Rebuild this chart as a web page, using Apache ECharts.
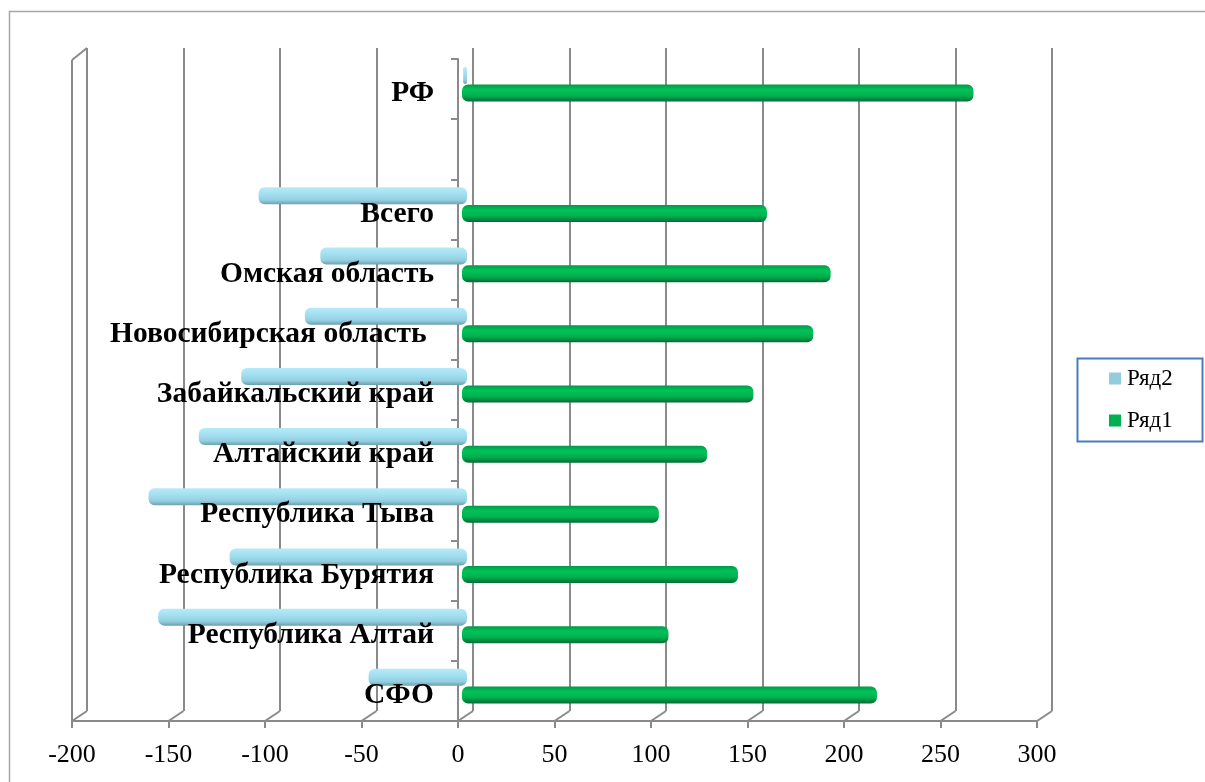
<!DOCTYPE html>
<html><head><meta charset="utf-8">
<script src="https://cdn.jsdelivr.net/npm/echarts@6/dist/echarts.min.js"></script>
<style>html,body{margin:0;padding:0;background:#fff}#c{width:1205px;height:782px}</style>
</head><body><div id="c"></div>
<script>
const categories = ['СФО','Республика Алтай','Республика Бурятия','Республика Тыва','Алтайский край','Забайкальский край','Новосибирская область ','Омская область','Всего','','РФ'];
const row1 = [215, 107, 143, 102, 127, 151, 182, 191, 158, null, 265];
const row2 = [-51, -160, -123, -165, -139, -117, -84, -76, -108, null, -2];
const seriesNames = ['Ряд1', 'Ряд2'];
const xMin = -200, xMax = 300, xStep = 50;

const GRID_W = 965;
const FRONT = {left: 72, top: 59, height: 662};
const BACK = {left: 87, top: 48, height: 663};
const GREEN = {left: 76, top: 63, height: 662};
const BLUE = {left: 81, top: 45.4, height: 662};
const LABELS = {left: 72, top: 63.5, height: 662};
const gridLine = '#8a8a8a';
const serif = '"Liberation Serif","Times New Roman",serif';

function grid(g){ return {left: g.left, top: g.top, width: GRID_W, height: g.height, containLabel:false, outerBoundsMode:'none'}; }
function hiddenX(i){ return {type:'value', gridIndex:i, min:xMin, max:xMax, interval:xStep, show:false}; }
function hiddenY(i){ return {type:'category', gridIndex:i, data:categories, show:false}; }

const chart = echarts.init(document.getElementById('c'), null, {renderer:'canvas'});
chart.setOption({
  animation:false,
  backgroundColor:'#fff',
  grid:[grid(FRONT), grid(BACK), grid(GREEN), grid(BLUE), grid(LABELS)],
  xAxis:[
    {type:'value', gridIndex:0, min:xMin, max:xMax, interval:xStep,
     axisLine:{show:true, onZero:false, lineStyle:{color:gridLine, width:2}},
     axisTick:{show:true, length:7, lineStyle:{color:gridLine, width:2}},
     axisLabel:{color:'#000', fontFamily:serif, fontSize:26, margin:21},
     splitLine:{show:false}},
    {type:'value', gridIndex:1, min:xMin, max:xMax, interval:xStep,
     axisLine:{show:false}, axisTick:{show:false}, axisLabel:{show:false},
     splitLine:{show:true, lineStyle:{color:gridLine, width:2}}},
    hiddenX(2), hiddenX(3),
    {type:'value', gridIndex:4, min:xMin, max:xMax, interval:xStep,
     axisLine:{show:false}, axisTick:{show:false}, axisLabel:{show:false}, splitLine:{show:false}}
  ],
  yAxis:[
    {type:'category', gridIndex:0, data:categories, offset:-386,
     axisLine:{show:true, onZero:false, lineStyle:{color:gridLine, width:2}},
     axisTick:{show:true, length:7, lineStyle:{color:gridLine, width:2}},
     axisLabel:{show:false},
     splitLine:{show:false}},
    hiddenY(1), hiddenY(2), hiddenY(3),
    {type:'category', gridIndex:4, data:categories, offset:-386, z:10,
     axisLine:{show:false, onZero:false}, axisTick:{show:false},
     axisLabel:{color:'#000', fontFamily:serif, fontSize:29.5, fontWeight:'bold', margin:24},
     splitLine:{show:false}}
  ],
  legend:{
    orient:'vertical', left:1109, top:367, padding:0, itemGap:19,
    itemWidth:12, itemHeight:12, icon:'rect',
    textStyle:{fontFamily:serif, fontSize:23, color:'#000', padding:[0,0,0,1]},
    data:[{name:seriesNames[1], itemStyle:{color:'#93CDDD'}}, {name:seriesNames[0], itemStyle:{color:'#00B050'}}]
  },
  series:[
    {name:seriesNames[0], type:'bar', xAxisIndex:2, yAxisIndex:2, data:row1, barWidth:17,
     itemStyle:{borderRadius:6, color:new echarts.graphic.LinearGradient(0,0,0,1,[
       {offset:0,color:'#009a48'},{offset:0.3,color:'#00c358'},{offset:0.65,color:'#00b14f'},{offset:1,color:'#006e36'}])}},
    {name:seriesNames[1], type:'bar', xAxisIndex:3, yAxisIndex:3, data:row2, barWidth:17,
     itemStyle:{borderRadius:6, color:new echarts.graphic.LinearGradient(0,0,0,1,[
       {offset:0,color:'#b8eaf8'},{offset:0.4,color:'#a2dff0'},{offset:0.75,color:'#93cfe0'},{offset:1,color:'#6b9fae'}])}}
  ]
});

// 3D frame decoration derived from the axis scale
const frontBottom = FRONT.top + FRONT.height;
const backBottom = BACK.top + BACK.height;
const dx = BACK.left - FRONT.left;
const els = [];
const ls = {stroke:gridLine, lineWidth:2};
for (let v = xMin; v <= xMax; v += xStep) {
  const x = chart.convertToPixel({xAxisIndex:0}, v);
  els.push({type:'line', shape:{x1:x, y1:frontBottom, x2:x+dx, y2:backBottom}, style:ls, silent:true});
}
const xl = chart.convertToPixel({xAxisIndex:0}, xMin);
els.push({type:'line', shape:{x1:xl, y1:frontBottom, x2:xl, y2:FRONT.top+1}, style:ls, silent:true});
els.push({type:'line', shape:{x1:xl, y1:FRONT.top+1, x2:xl+dx, y2:BACK.top}, style:ls, silent:true});
// outer chart border
els.push({type:'rect', shape:{x:9.5, y:11.5, width:1210, height:790}, style:{fill:null, stroke:'#a6a6a6', lineWidth:1.5}, silent:true});
// legend border
els.push({type:'rect', shape:{x:1077.5, y:358.5, width:125, height:83}, style:{fill:null, stroke:'#4a7ebb', lineWidth:2}, silent:true});
chart.setOption({graphic:{elements:els}});
</script></body></html>
